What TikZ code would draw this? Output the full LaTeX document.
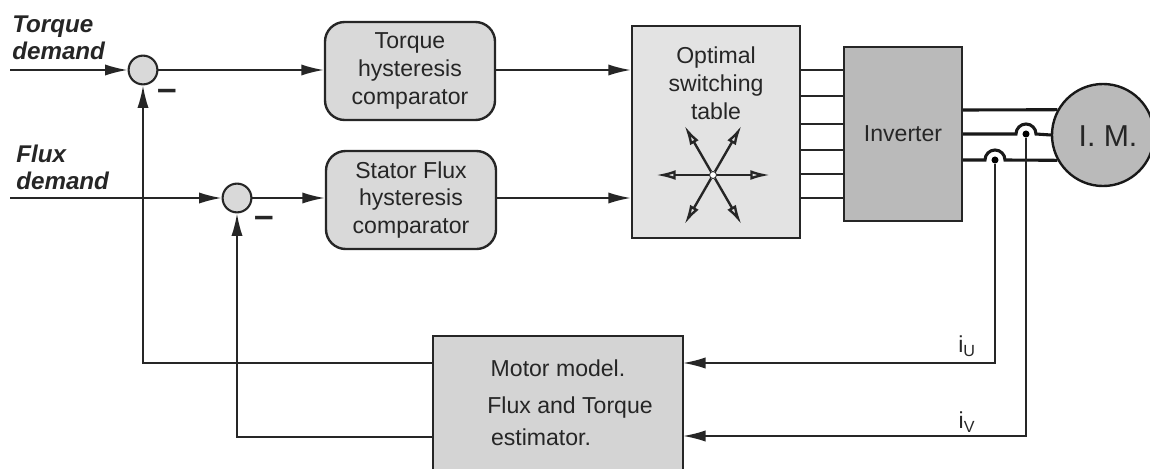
\documentclass[tikz,border=0pt]{standalone}
\usepackage{fontspec}
\setmainfont{Liberation Sans}
\usetikzlibrary{arrows.meta}
\tikzset{font={\fontsize{16.4}{20}\selectfont}, text=black!85}
\tikzset{block/.style={rectangle, draw=black!85, line width=1.7pt}}
\tikzset{comp/.style={block, rounded corners=14pt, fill=black!15, minimum width=4.25cm, minimum height=2.45cm, align=center, font={\fontsize{16.4}{19.8}\selectfont}}}
\tikzset{sum/.style={circle, draw=black!85, line width=1.5pt, fill=black!15, minimum size=0.72cm, inner sep=0pt}}
\tikzset{dot/.style={circle, fill=black, minimum size=5pt, inner sep=0pt}}
\tikzset{demand/.style={align=left, anchor=west, inner sep=0pt, font={\fontsize{17.2}{19.4}\selectfont\bfseries\itshape}}}
\tikzset{minus/.style={inner sep=0pt, font={\fontsize{25}{25}\selectfont\bfseries}}}
\tikzset{sig/.style={line width=1.3pt, black!85}}
\tikzset{flow/.style={sig, -{Latex[length=16pt,width=8pt]}}}
\tikzset{power/.style={line width=2.2pt, black!90}}

\begin{document}
\begin{tikzpicture}[x=0.025cm, y=-0.025cm]

	\clip (0,0) rectangle (1150,468);

	% demands and summing points
	\node (torque_label) [demand] at (12,38) {Torque\\demand};
	\node (flux_label) [demand] at (16,167) {Flux\\demand};
	\coordinate (torque_in) at (10,70);
	\coordinate (flux_in) at (10,198);
	\node (torque_sum) [sum] at (143,70) {};
	\node (flux_sum) [sum] at (237,198) {};
	\node (torque_minus) [minus] at (167,95) {--};
	\node (flux_minus) [minus] at (264,222) {--};

	% comparators
	\node (torque_comp) [comp] at (410,71) {Torque\\hysteresis\\comparator};
	\node (flux_comp) [comp] at (411,200) {Stator Flux\\hysteresis\\comparator};

	% table and inverter
	\node (table) [block, fill=black!11, minimum width=4.2cm, minimum height=5.3cm] at (716,132) {};
	\node (table_label) [align=center, font={\fontsize{16.4}{20}\selectfont}] at (716,83) {Optimal\\switching\\table};
	\node (inverter) [block, fill=black!27, minimum width=2.95cm, minimum height=4.35cm] at (903,134) {Inverter};
	\node (motor) [circle, draw=black!90, line width=1.7pt, fill=black!27, minimum size=2.55cm, inner sep=0pt] at (1103,135) {};
	\node (motor_label) [inner sep=0pt, font={\fontsize{21.5}{24}\selectfont}] at (1108,136) {I. M.};

	% estimator
	\node (model) [block, fill=black!17, minimum width=6.25cm, minimum height=3.45cm] at (558,405) {};
	\node (model_a) [inner sep=0pt] at (558,368) {Motor model.};
	\node (model_b) [inner sep=0pt] at (570,408) {Flux and Torque};
	\node (model_c) [inner sep=0pt] at (541,437) {estimator.};
	\coordinate (model_tl) at (433,363);
	\coordinate (model_bl) at (433,437);
	\coordinate (model_tr) at (683,363);
	\coordinate (model_br) at (683,436);

	% forward path
	\draw [flow] (torque_in) -- (torque_sum);
	\draw [flow] (flux_in) -- (flux_sum);
	\draw [flow] (torque_sum) -- (torque_comp.west |- torque_sum);
	\draw [flow] (flux_sum) -- (flux_comp.west |- flux_sum);
	\draw [flow] (torque_comp.east |- torque_sum) -- (table.west |- torque_sum);
	\draw [flow] (flux_comp.east |- flux_sum) -- (table.west |- flux_sum);

	\foreach \y in {70,96,124,150,174,198}
		\draw [sig] (table.east |- 0,\y) -- (inverter.west |- 0,\y);

	% voltage vectors
	\node (hub) [circle, fill=white, draw=black!85, line width=0.6pt, minimum size=5pt, inner sep=0pt] at (713,175) {};
	\foreach \ang in {0,60,120,180,240,300}
		\draw [line width=1.7pt, black!85, -{Latex[open,length=14pt,width=7pt]}] (hub) -- ++(\ang:57);

	% motor feed with the two bridges
	\node (iu_dot) [dot] at (995,160) {};
	\node (iv_dot) [dot] at (1026,134) {};
	\draw [power] (inverter.east |- 0,110) -- (motor.151);
	\draw [power] (inverter.east |- iv_dot) -- (1016,134) arc (180:360:10) -- (motor.west);
	\draw [power] (inverter.east |- iu_dot) -- (985,160) arc (180:360:10) -- (motor.209);

	% feedback
	\draw [flow] (iu_dot) |- (model_tr);
	\draw [flow] (iv_dot) |- (model_br);
	\draw [flow] (model_tl) -| (torque_sum.south);
	\draw [flow] (model_bl) -| (flux_sum.south);
	\node (iu_label) [inner sep=0pt] at (967,346) {i\textsubscript{U}};
	\node (iv_label) [inner sep=0pt] at (967,422) {i\textsubscript{V}};

\end{tikzpicture}
\end{document}
